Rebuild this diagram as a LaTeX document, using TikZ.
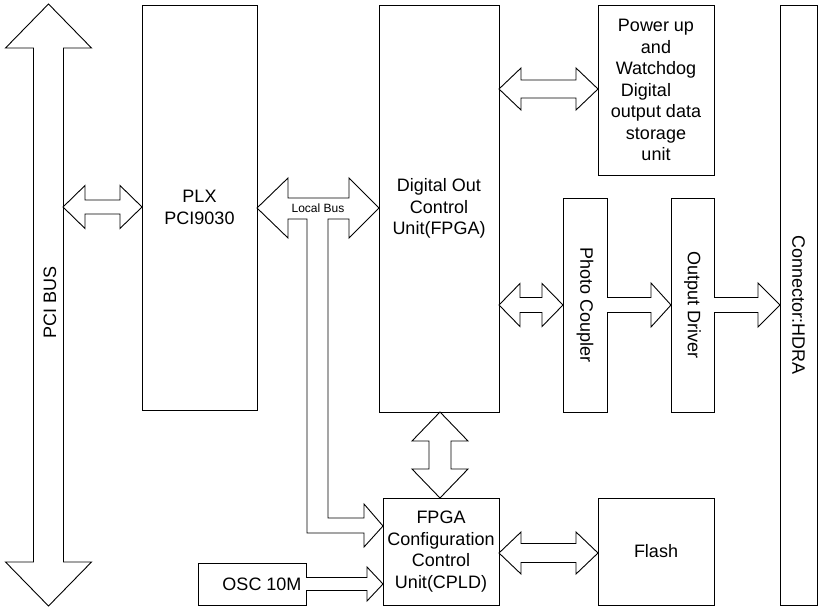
\documentclass[tikz,border=0pt]{standalone}
\usepackage{fontspec}
\setmainfont{Liberation Sans}
\newcommand\hdarr[6]{% x1 x2 yc H S L
\draw[blk] (#1,#3) -- ({#1+#6},{#3-#4}) -- ({#1+#6},{#3-#5}) -- ({#2-#6},{#3-#5}) -- ({#2-#6},{#3-#4}) -- (#2,#3) -- ({#2-#6},{#3+#4}) -- ({#2-#6},{#3+#5}) -- ({#1+#6},{#3+#5}) -- ({#1+#6},{#3+#4}) -- cycle;}
\newcommand\vdarr[6]{% y1 y2 xc H S L
\draw[blk] (#3,#1) -- ({#3-#4},{#1+#6}) -- ({#3-#5},{#1+#6}) -- ({#3-#5},{#2-#6}) -- ({#3-#4},{#2-#6}) -- (#3,#2) -- ({#3+#4},{#2-#6}) -- ({#3+#5},{#2-#6}) -- ({#3+#5},{#1+#6}) -- ({#3+#4},{#1+#6}) -- cycle;}
\newcommand\hsarr[6]{% x1 x2 yc H S L
\draw[blk] (#1,{#3-#5}) -- ({#2-#6},{#3-#5}) -- ({#2-#6},{#3-#4}) -- (#2,#3) -- ({#2-#6},{#3+#4}) -- ({#2-#6},{#3+#5}) -- (#1,{#3+#5});}
\begin{document}
\begin{tikzpicture}[x=1pt,y=-1pt,
  font=\fontsize{18}{21.5}\selectfont,
  box/.style={draw, line width=0.9pt, inner sep=0pt, align=center, fill=white},
  blk/.style={draw, line width=0.9pt, fill=white, line join=miter}]
\useasboundingbox (0,0) rectangle (819,608);
% boxes
\node[box, minimum width=115pt, minimum height=405pt] (plx) at (199.5,207.5) {PLX\\PCI9030};
\node[box, minimum width=120pt, minimum height=407pt] (doc) at (439,208.5) {Digital Out\\Control\\Unit(FPGA)};
\node[box, minimum width=116pt, minimum height=170pt] (pwr) at (656,90) {Power up\\and\\Watchdog\\Digital\kern 20pt\\output data\\storage\\unit};
\node[box, rotate=-90, minimum width=214pt, minimum height=44pt] (pho) at (585,305) {Photo Coupler};
\node[box, rotate=-90, minimum width=214pt, minimum height=43pt] (drv) at (692.5,305) {Output Driver};
\node[box, rotate=-90, minimum width=600pt, minimum height=37pt] (con) at (798.5,305) {Connector:HDRA};
\node[box, minimum width=116pt, minimum height=107pt] (cpld) at (441,551.5) {FPGA\\Configuration\\Control\\Unit(CPLD)};
\node[box, minimum width=116pt, minimum height=107pt] (flash) at (656,551.5) {Flash};
\node[box, minimum width=108pt, minimum height=42pt] (osc) at (252,584) {\kern 20pt OSC 10M};
% PCI bus arrow
\vdarr{4}{606}{48.5}{43}{15}{44}
\node[rotate=90] (pci) at (50,302) {PCI BUS};
% PCI <-> PLX
\hdarr{63}{142}{207}{21.5}{7}{22}
% local bus with branch to CPLD
\draw[blk] (257,208) -- (288,178) -- (288,198) -- (349,198) -- (349,178) -- (379,208)
  -- (349,238) -- (349,219) -- (328,219) -- (328,518) -- (364,518) -- (364,504)
  -- (383,526) -- (364,547) -- (364,533) -- (307,533) -- (307,219) -- (288,219)
  -- (288,238) -- cycle;
\node[font=\fontsize{12}{14}\selectfont] (lb) at (318,208.5) {Local Bus};
% FPGA <-> Power up
\hdarr{499}{598}{89}{21}{9}{22}
% FPGA <-> Photo
\hdarr{499}{563}{305}{21.5}{7.5}{21}
% Photo -> Driver -> Connector
\hsarr{607}{671}{305}{22}{7.5}{20}
\hsarr{714}{780}{305}{22}{7.5}{22}
% FPGA <-> CPLD
\vdarr{412}{498}{440}{28}{11}{29}
% CPLD <-> Flash
\hdarr{499}{598}{553}{21}{9.5}{22}
% OSC -> CPLD
\hsarr{306}{383}{584}{17}{6.5}{16}
\end{tikzpicture}
\end{document}
